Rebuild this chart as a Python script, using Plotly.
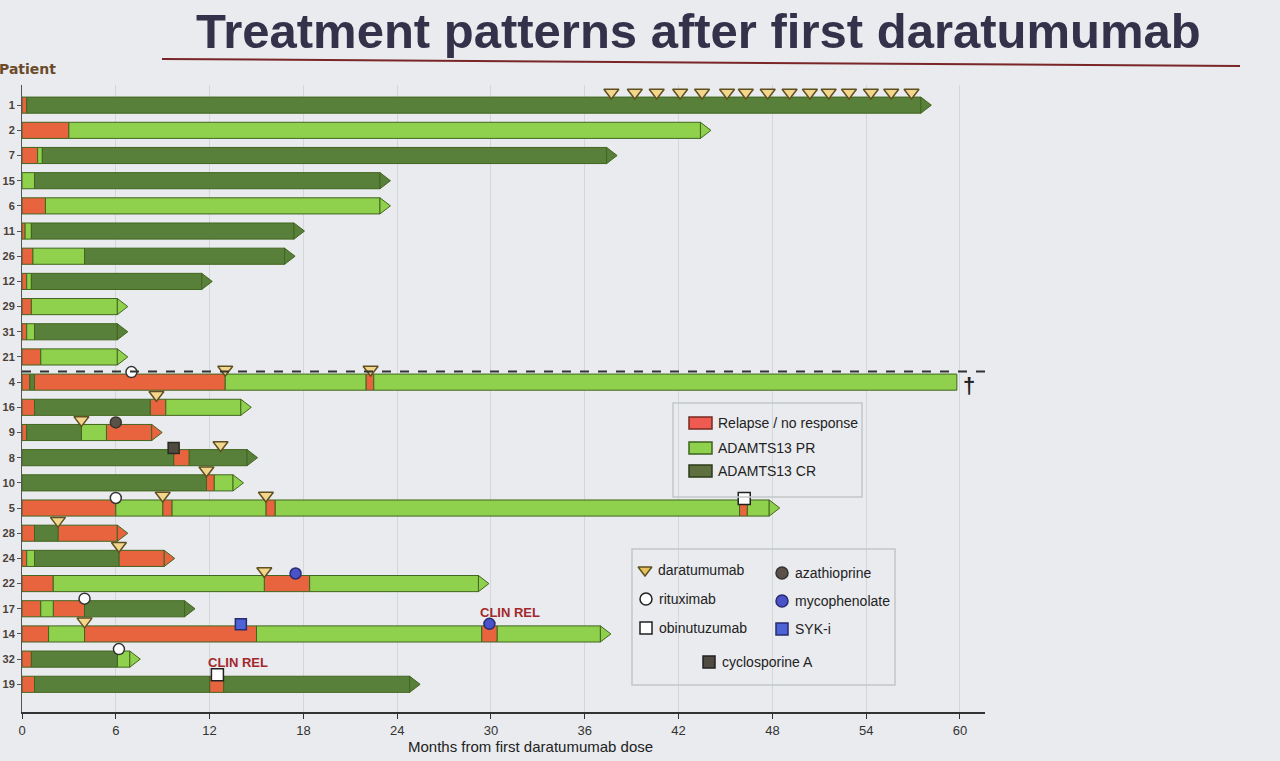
import plotly.graph_objects as go

W, H = 1280, 761
ML, MR, MT, MB = 22, 295, 85, 49
PW, PH = W - ML - MR, H - MT - MB

# ---------------- data ----------------
patients = ["1", "2", "7", "15", "6", "11", "26", "12", "29", "31", "21", "4",
            "16", "9", "8", "10", "5", "28", "24", "22", "17", "14", "32", "19"]

seg_patient = ["1", "1",
               "2", "2",
               "7", "7", "7",
               "15", "15",
               "6", "6",
               "11", "11", "11",
               "26", "26", "26",
               "12", "12", "12",
               "29", "29",
               "31", "31", "31",
               "21", "21",
               "4", "4", "4", "4", "4", "4",
               "16", "16", "16", "16",
               "9", "9", "9", "9",
               "8", "8", "8",
               "10", "10", "10",
               "5", "5", "5", "5", "5", "5", "5", "5",
               "28", "28", "28",
               "24", "24", "24", "24",
               "22", "22", "22", "22",
               "17", "17", "17", "17",
               "14", "14", "14", "14", "14", "14",
               "32", "32", "32",
               "19", "19", "19", "19"]
seg_state = ["Rel", "CR",
             "Rel", "PR",
             "Rel", "PR", "CR",
             "PR", "CR",
             "Rel", "PR",
             "Rel", "PR", "CR",
             "Rel", "PR", "CR",
             "Rel", "PR", "CR",
             "Rel", "PR",
             "Rel", "PR", "CR",
             "Rel", "PR",
             "Rel", "CR", "Rel", "PR", "Rel", "PR",
             "Rel", "CR", "Rel", "PR",
             "Rel", "CR", "PR", "Rel",
             "CR", "Rel", "CR",
             "CR", "Rel", "PR",
             "Rel", "PR", "Rel", "PR", "Rel", "PR", "Rel", "PR",
             "Rel", "CR", "Rel",
             "Rel", "PR", "CR", "Rel",
             "Rel", "PR", "Rel", "PR",
             "Rel", "PR", "Rel", "CR",
             "Rel", "PR", "Rel", "PR", "Rel", "PR",
             "Rel", "CR", "PR",
             "Rel", "CR", "Rel", "CR"]
seg_start = [0, 0.3,
             0, 3.0,
             0, 1.0, 1.3,
             0, 0.8,
             0, 1.5,
             0, 0.2, 0.6,
             0, 0.7, 4.0,
             0, 0.3, 0.6,
             0, 0.6,
             0, 0.3, 0.8,
             0, 1.2,
             0, 0.5, 0.8, 13.0, 22.0, 22.5,
             0, 0.8, 8.2, 9.2,
             0, 0.3, 3.8, 5.4,
             0, 9.7, 10.7,
             0, 11.8, 12.3,
             0, 6.0, 9.0, 9.6, 15.6, 16.2, 45.9, 46.4,
             0, 0.8, 2.3,
             0, 0.3, 0.8, 6.2,
             0, 2.0, 15.5, 18.4,
             0, 1.2, 2.0, 4.0,
             0, 1.7, 4.0, 15.0, 29.4, 30.4,
             0, 0.6, 6.1,
             0, 0.8, 12.0, 12.9]
seg_end = [0.3, 57.5,
           3.0, 43.4,
           1.0, 1.3, 37.4,
           0.8, 22.9,
           1.5, 22.9,
           0.2, 0.6, 17.4,
           0.7, 4.0, 16.8,
           0.3, 0.6, 11.5,
           0.6, 6.1,
           0.3, 0.8, 6.1,
           1.2, 6.1,
           0.5, 0.8, 13.0, 22.0, 22.5, 59.8,
           0.8, 8.2, 9.2, 14.0,
           0.3, 3.8, 5.4, 8.3,
           9.7, 10.7, 14.4,
           11.8, 12.3, 13.5,
           6.0, 9.0, 9.6, 15.6, 16.2, 45.9, 46.4, 47.8,
           0.8, 2.3, 6.1,
           0.3, 0.8, 6.2, 9.1,
           2.0, 15.5, 18.4, 29.2,
           1.2, 2.0, 4.0, 10.4,
           1.7, 4.0, 15.0, 29.4, 30.4, 37.0,
           0.6, 6.1, 6.9,
           0.8, 12.0, 12.9, 24.8]
deceased = ["4"]

dara_patient = ["1", "1", "1", "1", "1", "1", "1", "1", "1", "1", "1", "1", "1", "1", "1",
                "4", "4", "16", "9", "8", "10", "5", "5", "28", "24", "22", "14"]
dara_month = [37.7, 39.2, 40.6, 42.1, 43.5, 45.1, 46.3, 47.7, 49.1, 50.4, 51.6, 52.9, 54.3, 55.6, 56.9,
              13.0, 22.3, 8.6, 3.8, 12.7, 11.8, 9.0, 15.6, 2.3, 6.2, 15.5, 4.0]
ritux_patient = ["4", "5", "17", "32"]
ritux_month = [7.0, 6.0, 4.0, 6.2]
obinu_patient = ["5", "19"]
obinu_month = [46.2, 12.5]
aza_patient = ["9"]
aza_month = [6.0]
myco_patient = ["22", "14"]
myco_month = [17.5, 29.9]
syk_patient = ["14"]
syk_month = [14.0]
cyclo_patient = ["8"]
cyclo_month = [9.7]
clinrel_patient = ["14", "19"]
clinrel_month = [31.2, 13.8]

x_ticks = [0, 6, 12, 18, 24, 30, 36, 42, 48, 54, 60]

assert len(seg_patient) == len(seg_state) == len(seg_start) == len(seg_end)

# ---------------- styles ----------------
state_colors = {"Rel": "#e8643e", "PR": "#8fd14c", "CR": "#58803a"}
outline = "#41651f"
BG = "#e9ebee"
FONT = "Liberation Sans, Arial, sans-serif"
NARROW = "Liberation Sans Narrow, Arial Narrow, Liberation Sans, sans-serif"

row = {p: i for i, p in enumerate(patients)}


def px(x):
    return (x - ML) / PW


def py(y):
    return (H - MB - y) / PH


fig = go.Figure()

# response bars
for state in ["Rel", "PR", "CR"]:
    idx = [i for i, s in enumerate(seg_state) if s == state]
    fig.add_trace(go.Bar(
        orientation="h",
        y=[row[seg_patient[i]] for i in idx],
        x=[seg_end[i] - seg_start[i] for i in idx],
        base=[seg_start[i] for i in idx],
        width=0.64,
        marker=dict(color=state_colors[state], line=dict(color=outline, width=1)),
        showlegend=False, hoverinfo="skip"))

# arrow heads for ongoing follow-up
arr_x, arr_y, arr_c = [], [], []
for p in patients:
    if p in deceased:
        continue
    ends = [(seg_end[i], seg_state[i]) for i in range(len(seg_patient)) if seg_patient[i] == p]
    e, s = max(ends)
    arr_x.append(e + 0.22)
    arr_y.append(row[p])
    arr_c.append(state_colors[s])
fig.add_trace(go.Scatter(x=arr_x, y=arr_y, mode="markers", showlegend=False, hoverinfo="skip",
                         marker=dict(symbol="triangle-right", size=14, color=arr_c,
                                     line=dict(color=outline, width=1))))


def add_events(pl, ml, symbol, size, color, lcolor, off):
    fig.add_trace(go.Scatter(
        x=ml, y=[row[p] - off for p in pl], mode="markers", showlegend=False, hoverinfo="skip",
        marker=dict(symbol=symbol, size=size, color=color, line=dict(color=lcolor, width=1.5))))


add_events(dara_patient, dara_month, "triangle-down", 13, "#f3d68c", "#5e5020", 0.5)
add_events(ritux_patient, ritux_month, "circle", 11, "#ffffff", "#333333", 0.4)
add_events(obinu_patient, obinu_month, "square", 12, "#ffffff", "#222222", 0.38)
add_events(aza_patient, aza_month, "circle", 11, "#5a5248", "#3a342c", 0.4)
add_events(myco_patient, myco_month, "circle", 11, "#4a52c8", "#2a2a70", 0.4)
add_events(syk_patient, syk_month, "square", 11, "#4b63d4", "#2a2a70", 0.38)
add_events(cyclo_patient, cyclo_month, "square", 11, "#4f4b40", "#2a2a22", 0.38)

annotations = []
for p, m in zip(clinrel_patient, clinrel_month):
    annotations.append(dict(x=m, y=row[p] - 0.85, xref="x", yref="y", text="<b>CLIN REL</b>",
                            showarrow=False, font=dict(family=NARROW, size=13, color="#a3282c")))
for p in deceased:
    e = max(seg_end[i] for i in range(len(seg_patient)) if seg_patient[i] == p)
    annotations.append(dict(x=e + 0.75, y=row[p] + 0.15, xref="x", yref="y", text="<b>†</b>",
                            showarrow=False, font=dict(family=FONT, size=22, color="#222222")))

shapes = []
# dashed separator above the deceased patient
shapes.append(dict(type="line", xref="paper", yref="y", x0=0, x1=1,
                   y0=row["4"] - 0.42, y1=row["4"] - 0.42,
                   line=dict(color="#333333", width=2, dash="dash")))

# ---------------- legends (overlay axes in pixel units) ----------------
shapes.append(dict(type="rect", xref="x2", yref="y2", x0=673, x1=862, y0=403, y1=497,
                   line=dict(color="#c4c7ca", width=1.5), fillcolor="rgba(0,0,0,0)"))
leg1 = [("Relapse / no response", "#ef5b50", "#7a2a20", 423),
        ("ADAMTS13 PR", "#8fd14c", "#3f6320", 448),
        ("ADAMTS13 CR", "#5f7040", "#2e3a18", 471)]
for txt, fc, lc, yc in leg1:
    shapes.append(dict(type="rect", xref="x2", yref="y2", x0=689, x1=712, y0=yc - 6, y1=yc + 6,
                       line=dict(color=lc, width=1.5), fillcolor=fc))
    annotations.append(dict(x=716, y=yc, xref="x2", yref="y2", text=txt, showarrow=False,
                            xanchor="left", yanchor="middle",
                            font=dict(family=FONT, size=14, color="#222222")))

shapes.append(dict(type="rect", xref="x2", yref="y2", x0=632, x1=895, y0=549, y1=685,
                   line=dict(color="#c4c7ca", width=1.5), fillcolor="rgba(0,0,0,0)"))
leg2 = [("daratumumab", 645, 570, "triangle-down", "#e6c35a", "#5e5020"),
        ("rituximab", 646, 599, "circle", "#ffffff", "#222222"),
        ("obinutuzumab", 646, 628, "square", "#ffffff", "#222222"),
        ("azathioprine", 782, 573, "circle", "#5a5248", "#333333"),
        ("mycophenolate", 782, 601, "circle", "#4a52c8", "#2a2a70"),
        ("SYK-i", 782, 629, "square", "#4b63d4", "#2a2a70"),
        ("cyclosporine A", 709, 662, "square", "#4f4b40", "#222222")]
fig.add_trace(go.Scatter(
    x=[l[1] for l in leg2], y=[l[2] for l in leg2], xaxis="x2", yaxis="y2",
    mode="markers", showlegend=False, hoverinfo="skip",
    marker=dict(symbol=[l[3] for l in leg2], size=12, color=[l[4] for l in leg2],
                line=dict(color=[l[5] for l in leg2], width=1.5))))
for txt, x, y, *_ in leg2:
    annotations.append(dict(x=x + 11, y=y, xref="x2", yref="y2", text=txt, showarrow=False,
                            xanchor="left", yanchor="middle",
                            font=dict(family=FONT, size=14, color="#222222")))

# ---------------- titles ----------------
annotations.append(dict(x=px(698), y=py(31), xref="paper", yref="paper",
                        text="<b>Treatment patterns after first daratumumab</b>",
                        showarrow=False, xanchor="center", yanchor="middle",
                        font=dict(family=FONT, size=49, color="#33324a")))
shapes.append(dict(type="line", xref="paper", yref="paper", x0=px(162), x1=px(1240),
                   y0=py(59), y1=py(66), line=dict(color="#7a2628", width=2)))
annotations.append(dict(x=px(-3), y=py(69), xref="paper", yref="paper", text="<b>Patient</b>",
                        showarrow=False, xanchor="left", yanchor="middle",
                        font=dict(family="DejaVu Sans, sans-serif", size=14, color="#6b4a2a")))
annotations.append(dict(x=px(530), y=py(746), xref="paper", yref="paper",
                        text="Months from first daratumumab dose",
                        showarrow=False, xanchor="center", yanchor="middle",
                        font=dict(family=NARROW, size=15, color="#222222")))

fig.update_layout(
    width=W, height=H,
    margin=dict(l=ML, r=MR, t=MT, b=MB, pad=0),
    paper_bgcolor=BG, plot_bgcolor=BG,
    barmode="overlay", showlegend=False,
    xaxis=dict(range=[0, 61.6], tickvals=x_ticks, ticktext=[str(t) for t in x_ticks],
               showgrid=True, gridcolor="#d4d7da", gridwidth=1, zeroline=False,
               showline=True, linecolor="#333333", linewidth=2,
               ticks="outside", ticklen=5, tickcolor="#333333",
               tickfont=dict(family=NARROW, size=13, color="#333333"), automargin=False),
    yaxis=dict(range=[24.1, -0.8], tickvals=list(range(len(patients))),
               ticktext=["<b>" + p + "</b>" for p in patients],
               showgrid=False, zeroline=False, showline=True, linecolor="#555555", linewidth=1,
               ticks="outside", ticklen=4, tickcolor="#555555",
               tickfont=dict(family=FONT, size=11, color="#4a4038"), automargin=False),
    xaxis2=dict(overlaying="x", anchor="y2", range=[ML, W - MR], visible=False, fixedrange=True),
    yaxis2=dict(overlaying="y", anchor="x2", range=[H - MB, MT], visible=False, fixedrange=True),
    shapes=shapes, annotations=annotations,
)

fig.write_html("out.html")
